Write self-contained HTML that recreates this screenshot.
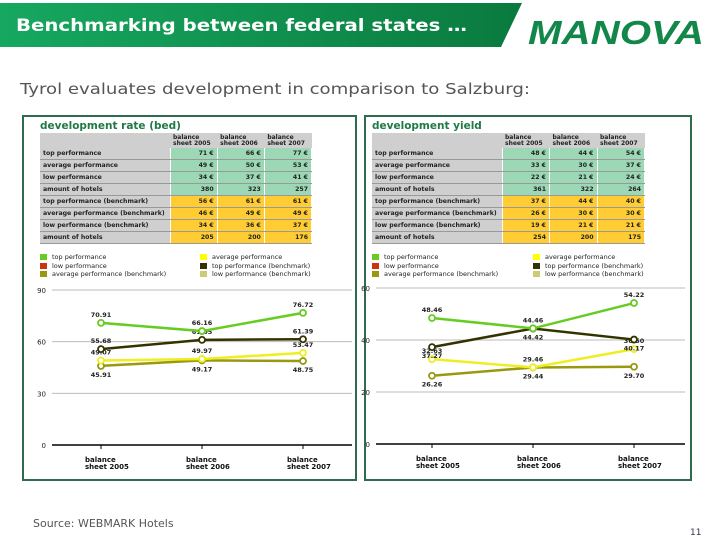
<!DOCTYPE html>
<html><head><meta charset="utf-8"><style>
body{margin:0;width:720px;height:540px;background:#fff;font-family:"DejaVu Sans","Liberation Sans",sans-serif;overflow:hidden;position:relative}
.abs{position:absolute}
.panel{position:absolute;border:2px solid #2f6b4f;background:#fff}
.ptitle{position:absolute;font-weight:bold;font-size:10.5px;color:#1f7a45}
table{position:absolute;border-collapse:collapse;font-size:6.2px;font-weight:bold;color:#222;table-layout:fixed}
td{height:11px;padding:0 3px;border-bottom:1px solid #999;white-space:nowrap;overflow:hidden}
td.l{background:#cfcfcf;border-right:1px solid #fff}
td.g{background:#9dd8b6;text-align:right;border-right:1px solid #fff}
td.o{background:#ffcc33;text-align:right;border-right:1px solid #fff}
th{background:#cfcfcf;font-size:6px;line-height:6px;text-align:left;padding:2px 3px 1px;font-weight:bold;white-space:nowrap}
.leg{position:absolute;font-size:6.5px;color:#222;line-height:8.5px}
.leg i{display:inline-block;width:7px;height:6px;margin-right:5px;vertical-align:-1px}
</style></head><body>
<svg class="abs" style="left:0;top:0" width="720" height="50">
<defs><linearGradient id="hg" x1="0" x2="1"><stop offset="0" stop-color="#16a860"/><stop offset="1" stop-color="#0a7a3e"/></linearGradient></defs>
<polygon points="0,3 522,3 501,47 0,47" fill="url(#hg)"/>
<text x="16" y="31" font-family="DejaVu Sans,sans-serif" font-weight="bold" font-size="17" fill="#fff" textLength="451" lengthAdjust="spacingAndGlyphs">Benchmarking between federal states …</text>
<text x="528" y="44" font-family="Liberation Sans,sans-serif" font-weight="bold" font-style="italic" font-size="33" fill="#13864a" textLength="176" lengthAdjust="spacingAndGlyphs">MANOVA</text>
</svg>
<svg class="abs" style="left:0;top:78px" width="720" height="24">
<text x="20" y="16" font-family="DejaVu Sans,sans-serif" font-size="15.5" fill="#555" textLength="510" lengthAdjust="spacingAndGlyphs">Tyrol evaluates development in comparison to Salzburg:</text></svg>

<div class="panel" style="left:22px;top:115px;width:331px;height:362px"></div>
<div class="panel" style="left:364px;top:115px;width:324px;height:362px"></div>
<div class="ptitle" style="left:40px;top:120px">development rate (bed)</div>
<div class="ptitle" style="left:372px;top:120px">development yield</div>

<table style="left:40px;top:133px;width:272px">
<colgroup><col style="width:130px"><col><col><col></colgroup>
<tr><th></th><th>balance<br>sheet 2005</th><th>balance<br>sheet 2006</th><th>balance<br>sheet 2007</th></tr>
<tr><td class="l">top performance</td><td class="g">71 €</td><td class="g">66 €</td><td class="g">77 €</td></tr>
<tr><td class="l">average performance</td><td class="g">49 €</td><td class="g">50 €</td><td class="g">53 €</td></tr>
<tr><td class="l">low performance</td><td class="g">34 €</td><td class="g">37 €</td><td class="g">41 €</td></tr>
<tr><td class="l">amount of hotels</td><td class="g">380</td><td class="g">323</td><td class="g">257</td></tr>
<tr><td class="l">top performance (benchmark)</td><td class="o">56 €</td><td class="o">61 €</td><td class="o">61 €</td></tr>
<tr><td class="l">average performance (benchmark)</td><td class="o">46 €</td><td class="o">49 €</td><td class="o">49 €</td></tr>
<tr><td class="l">low performance (benchmark)</td><td class="o">34 €</td><td class="o">36 €</td><td class="o">37 €</td></tr>
<tr><td class="l">amount of hotels</td><td class="o">205</td><td class="o">200</td><td class="o">176</td></tr>
</table>
<table style="left:372px;top:133px;width:273px">
<colgroup><col style="width:130px"><col><col><col></colgroup>
<tr><th></th><th>balance<br>sheet 2005</th><th>balance<br>sheet 2006</th><th>balance<br>sheet 2007</th></tr>
<tr><td class="l">top performance</td><td class="g">48 €</td><td class="g">44 €</td><td class="g">54 €</td></tr>
<tr><td class="l">average performance</td><td class="g">33 €</td><td class="g">30 €</td><td class="g">37 €</td></tr>
<tr><td class="l">low performance</td><td class="g">22 €</td><td class="g">21 €</td><td class="g">24 €</td></tr>
<tr><td class="l">amount of hotels</td><td class="g">361</td><td class="g">322</td><td class="g">264</td></tr>
<tr><td class="l">top performance (benchmark)</td><td class="o">37 €</td><td class="o">44 €</td><td class="o">40 €</td></tr>
<tr><td class="l">average performance (benchmark)</td><td class="o">26 €</td><td class="o">30 €</td><td class="o">30 €</td></tr>
<tr><td class="l">low performance (benchmark)</td><td class="o">19 €</td><td class="o">21 €</td><td class="o">21 €</td></tr>
<tr><td class="l">amount of hotels</td><td class="o">254</td><td class="o">200</td><td class="o">175</td></tr>
</table>

<div class="leg" style="left:40px;top:253px"><i style="background:#66cc22"></i>top performance<br><i style="background:#cc3311"></i>low performance<br><i style="background:#999911"></i>average performance (benchmark)</div>
<div class="leg" style="left:200px;top:253px"><i style="background:#ffff00"></i>average performance<br><i style="background:#333300"></i>top performance (benchmark)<br><i style="background:#cccc77"></i>low performance (benchmark)</div>
<div class="leg" style="left:372px;top:253px"><i style="background:#66cc22"></i>top performance<br><i style="background:#cc3311"></i>low performance<br><i style="background:#999911"></i>average performance (benchmark)</div>
<div class="leg" style="left:533px;top:253px"><i style="background:#ffff00"></i>average performance<br><i style="background:#333300"></i>top performance (benchmark)<br><i style="background:#cccc77"></i>low performance (benchmark)</div>

<svg id="chart" class="abs" style="left:0;top:0" width="720" height="540"></svg>

<div class="abs" style="left:33px;top:517px;font-size:11px;color:#555">Source: WEBMARK Hotels</div>
<div class="abs" style="left:690px;top:528px;font-size:9px;color:#335">11</div>

<script>
const categories = ["balance|sheet 2005","balance|sheet 2006","balance|sheet 2007"];
const leftTicks = [0,30,60,90];
const leftTop = [70.91,66.16,76.72];
const leftTopBench = [55.68,61.05,61.39];
const leftAvg = [49.07,49.97,53.47];
const leftAvgBench = [45.91,49.17,48.75];
const rightTicks = [0,20,40,60];
const rightTop = [48.46,44.46,54.22];
const rightTopBench = [37.27,44.42,40.17];
const rightAvg = [32.63,29.46,36.50];
const rightAvgBench = [26.26,29.44,29.70];

const NS="http://www.w3.org/2000/svg", svg=document.getElementById('chart');
function mk(tag,a,txt){const e=document.createElementNS(NS,tag);for(const k in a)e.setAttribute(k,a[k]);if(txt!==undefined)e.textContent=txt;svg.appendChild(e);return e;}
function chart(cfg){
  const y=v=>cfg.y0-(v/cfg.max)*(cfg.y0-cfg.yTop);
  const x=i=>cfg.x0+i*cfg.dx;
  cfg.ticks.forEach(t=>{
    const g=mk('line',{x1:cfg.gl,x2:cfg.gr,y1:y(t),y2:y(t),stroke:t===0?'#000':'#bbb','stroke-width':t===0?1.5:1});
    
    
    const l=mk('text',{x:cfg.gl-6,y:y(t)+3,'text-anchor':'end','font-size':7,fill:'#222'},t);
    
    
  });
  categories.forEach((c,i)=>{
    mk('line',{x1:x(i),x2:x(i),y1:y(0),y2:y(0)+4,stroke:'#000'});
    const p=c.split('|');
    const t=mk('text',{x:x(i)-16,y:y(0)+17,'font-size':7,'font-weight':'bold',fill:'#111'},p[0]);
    
    
    const t2=mk('text',{x:x(i)-16,y:y(0)+24,'font-size':7,'font-weight':'bold',fill:'#111'},p[1]);
    
    
  });
  cfg.series.forEach(s=>{
    const pl=mk('polyline',{points:s.d.map((v,i)=>x(i)+','+y(v)).join(' '),fill:'none',stroke:s.c,'stroke-width':2.5});
    
    
    s.d.forEach((v,i)=>{
      const c=mk('circle',{cx:x(i),cy:y(v),r:3,fill:'#fff',stroke:s.c,'stroke-width':1.8});
      
      
      const t=mk('text',{x:x(i),y:y(v)+(s.below?11:-6),'text-anchor':'middle','font-size':6.5,'font-weight':'bold',fill:'#222'},v.toFixed(2));
      
      
    });
  });
}
chart({gl:52,gr:352,y0:445,yTop:290,max:90,x0:101,dx:101,ticks:leftTicks,series:[
  {n:'avg-benchmark',d:leftAvgBench,c:'#999911',below:true},
  {n:'avg',d:leftAvg,c:'#eeee22'},
  {n:'top-benchmark',d:leftTopBench,c:'#333300'},
  {n:'top',d:leftTop,c:'#66cc22'}]});
chart({gl:376,gr:685,y0:444,yTop:288,max:60,x0:432,dx:101,ticks:rightTicks,series:[
  {n:'avg-benchmark',d:rightAvgBench,c:'#999911',below:true},
  {n:'avg',d:rightAvg,c:'#eeee22'},
  {n:'top-benchmark',d:rightTopBench,c:'#333300',below:true},
  {n:'top',d:rightTop,c:'#66cc22'}]});
</script>
</body></html>
